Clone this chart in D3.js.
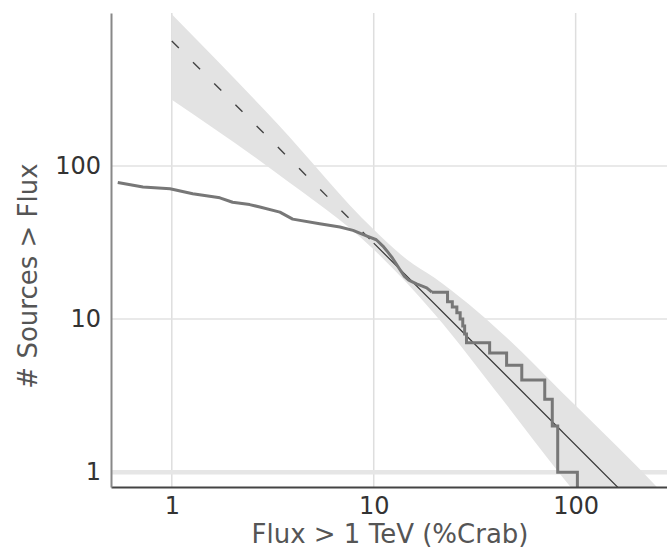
<!DOCTYPE html>
<html>
<head>
<meta charset="utf-8">
<script src="https://cdn.jsdelivr.net/npm/d3@7"></script>
<style>
  body { margin: 0; background: #fff; }
  text { font-family: "DejaVu Sans", sans-serif; }
</style>
</head>
<body>
<div id="chart"></div>
<script>
// tick values
var xTicks = [1, 10, 100];
var yTicks = [1, 10, 100];

// cumulative source counts N(>S), flux in %Crab
// dense part (steps too small to see, read as points on the curve)
var denseFlux = [0.54, 0.72, 0.98, 1.27, 1.73, 2.0, 2.43, 2.73, 3.43, 3.97, 5.4, 6.8, 7.9, 9.2, 10.3, 11.1, 11.6, 12.4, 13.5,
                 14.2, 14.9, 16.3, 18.3, 19.4];
var denseCount = [78, 73, 71, 66, 62, 58, 56, 54, 50, 45, 42, 40, 38, 35, 33, 30, 28, 25, 21,
                  19, 18, 17, 16, 15];
// bright end, one step per source
var stepFlux = [19.4, 23.2, 24.5, 25.8, 26.8, 27.6, 28.2, 28.8, 37.5, 45.5, 54.1, 70.3, 76.6, 81.5, 102];
var stepCount = [15, 13, 12, 11, 10, 9, 8, 7, 6, 5, 4, 3, 2, 1, 0];

// power law fit (dashed below 10 %Crab)
var fitFlux = [1, 10, 300];
var fitCount = [656, 31.4, 0.352];

// fit uncertainty band
var bandFlux = [1, 3.3, 10, 14.6, 20, 43.5, 86, 200, 300];
var bandLow = [271, 90, 28.5, 17.2, 10.8, 2.97, 0.93, 0.25, 0.14];
var bandHigh = [980, 192, 38.5, 24.5, 18.6, 8.0, 3.3, 1.1, 0.63];

var width = 667, height = 550;
var plot = { left: 111, right: 672, top: 13, bottom: 487 };

var svg = d3.select("#chart").append("svg")
    .attr("width", width)
    .attr("height", height);

var x = d3.scaleLog().domain([0.5, 300]).range([plot.left, plot.right]);
var y = d3.scaleLog().domain([0.8, 1000]).range([plot.bottom, plot.top]);

// zero counts sit on the bottom axis
function yPos(d) { return d > 0 ? y(d) : plot.bottom; }

svg.append("clipPath").attr("id", "clip")
    .append("rect")
    .attr("x", plot.left)
    .attr("y", plot.top)
    .attr("width", plot.right - plot.left)
    .attr("height", plot.bottom - plot.top);

// gridlines
svg.append("g").selectAll("line")
    .data(xTicks)
    .enter().append("line")
    .attr("x1", function (d) { return x(d); })
    .attr("x2", function (d) { return x(d); })
    .attr("y1", plot.top)
    .attr("y2", plot.bottom)
    .attr("stroke", "#dedede")
    .attr("stroke-width", 1.5);

svg.append("g").selectAll("line")
    .data(yTicks)
    .enter().append("line")
    .attr("x1", plot.left)
    .attr("x2", width)
    .attr("y1", function (d) { return y(d); })
    .attr("y2", function (d) { return y(d); })
    .attr("stroke", function (d) { return d === 1 ? "#e6e6e6" : "#e2e2e2"; })
    .attr("stroke-width", function (d) { return d === 1 ? 4.5 : 1.5; });

var data = svg.append("g").attr("clip-path", "url(#clip)");

// uncertainty band
var band = bandFlux.map(function (f, i) { return { f: f, lo: bandLow[i], hi: bandHigh[i] }; });
data.append("path")
    .datum(band)
    .attr("fill", "#e3e3e3")
    .attr("d", d3.area()
        .curve(d3.curveMonotoneX)
        .x(function (d) { return x(d.f); })
        .y0(function (d) { return y(d.lo); })
        .y1(function (d) { return y(d.hi); }));

// fit line
var fit = fitFlux.map(function (f, i) { return [f, fitCount[i]]; });
var fitLine = d3.line()
    .x(function (d) { return x(d[0]); })
    .y(function (d) { return y(d[1]); });

data.append("path")
    .datum(fit.slice(0, 2))
    .attr("fill", "none")
    .attr("stroke", "#444")
    .attr("stroke-width", 1.4)
    .attr("stroke-dasharray", "10,20")
    .attr("d", fitLine);

data.append("path")
    .datum(fit.slice(1))
    .attr("fill", "none")
    .attr("stroke", "#333")
    .attr("stroke-width", 1.2)
    .attr("d", fitLine);

// logN-logS curve
var dense = denseFlux.map(function (f, i) { return [f, denseCount[i]]; });
var steps = stepFlux.map(function (f, i) { return [f, stepCount[i]]; });

data.append("path")
    .datum(dense)
    .attr("fill", "none")
    .attr("stroke", "#777")
    .attr("stroke-width", 3)
    .attr("stroke-linejoin", "round")
    .attr("d", d3.line()
        .x(function (d) { return x(d[0]); })
        .y(function (d) { return yPos(d[1]); }));

data.append("path")
    .datum(steps)
    .attr("fill", "none")
    .attr("stroke", "#777")
    .attr("stroke-width", 3)
    .attr("d", d3.line()
        .curve(d3.curveStepAfter)
        .x(function (d) { return x(d[0]); })
        .y(function (d) { return yPos(d[1]); }));

// axes
var xAxis = svg.append("g")
    .attr("transform", "translate(0," + plot.bottom + ")")
    .call(d3.axisBottom(x).tickValues(xTicks).tickSize(0).tickPadding(10).tickFormat(d3.format("d")));
xAxis.select(".domain").attr("stroke", "#444").attr("stroke-width", 2);

var yAxis = svg.append("g")
    .attr("transform", "translate(" + plot.left + ",0)")
    .call(d3.axisLeft(y).tickValues(yTicks).tickSize(0).tickPadding(10).tickFormat(d3.format("d")));
yAxis.select(".domain").attr("stroke", "#888").attr("stroke-width", 2);

svg.selectAll(".tick text")
    .style("font-family", "'DejaVu Sans', sans-serif")
    .style("font-size", "24px")
    .attr("fill", "#333");

// axis titles
svg.append("text")
    .attr("x", 390)
    .attr("y", 543)
    .style("text-anchor", "middle")
    .style("font-size", "26px")
    .attr("fill", "#555")
    .text("Flux > 1 TeV (%Crab)");

svg.append("text")
    .attr("transform", "translate(37,276) rotate(-90)")
    .style("text-anchor", "middle")
    .style("font-size", "26px")
    .attr("fill", "#555")
    .text("# Sources > Flux");
</script>
</body>
</html>
